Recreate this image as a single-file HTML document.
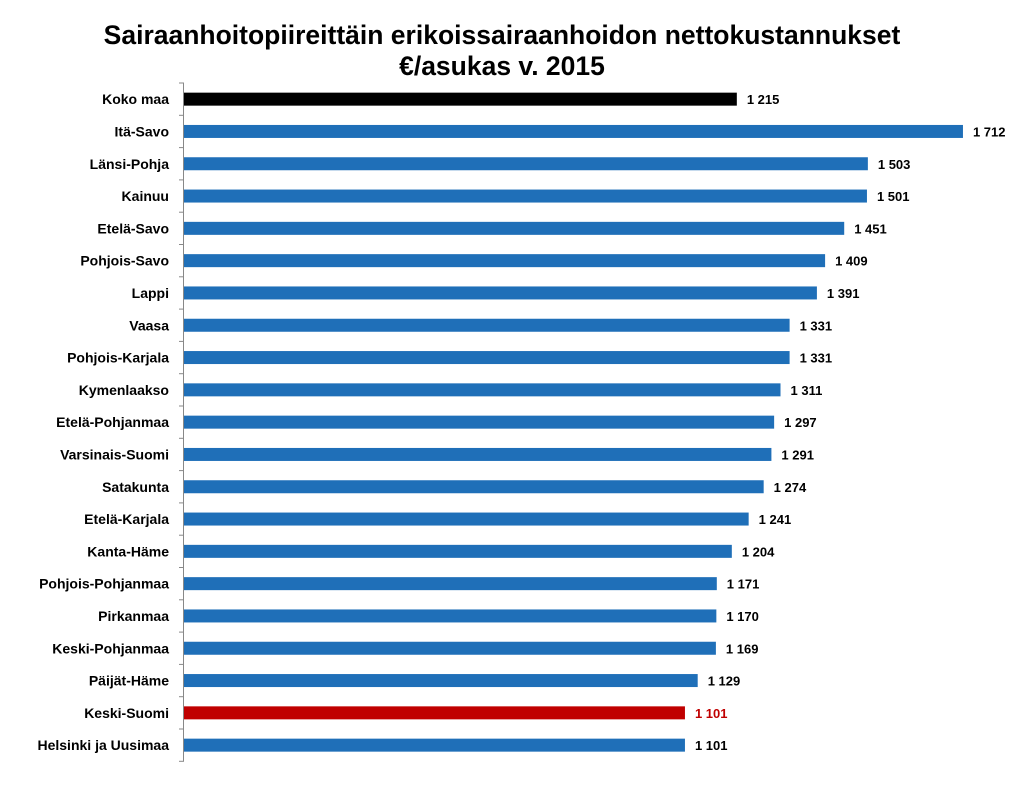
<!DOCTYPE html>
<html><head><meta charset="utf-8"><style>
body{margin:0;background:#fff;width:1024px;height:780px;overflow:hidden;font-family:"Liberation Sans",Arial,sans-serif}
</style></head><body>
<svg id="chart" width="1024" height="780" xmlns="http://www.w3.org/2000/svg">
<text x="502" y="44" text-anchor="middle" font-size="26.5" font-weight="bold" fill="#000">Sairaanhoitopiireittäin erikoissairaanhoidon nettokustannukset</text>
<text x="502" y="75" text-anchor="middle" font-size="26.5" font-weight="bold" fill="#000">€/asukas v. 2015</text>
<g id="plot"></g>
</svg>
<script>
const categories=["Koko maa","Itä-Savo","Länsi-Pohja","Kainuu","Etelä-Savo","Pohjois-Savo","Lappi","Vaasa","Pohjois-Karjala","Kymenlaakso","Etelä-Pohjanmaa","Varsinais-Suomi","Satakunta","Etelä-Karjala","Kanta-Häme","Pohjois-Pohjanmaa","Pirkanmaa","Keski-Pohjanmaa","Päijät-Häme","Keski-Suomi","Helsinki ja Uusimaa"];
const values=[1215,1712,1503,1501,1451,1409,1391,1331,1331,1311,1297,1291,1274,1241,1204,1171,1170,1169,1129,1101,1101];
const valueLabels=["1 215","1 712","1 503","1 501","1 451","1 409","1 391","1 331","1 331","1 311","1 297","1 291","1 274","1 241","1 204","1 171","1 170","1 169","1 129","1 101","1 101"];
const ns="http://www.w3.org/2000/svg";
const plotG=document.getElementById('plot');
const x0=184, scale=0.455, topY=83, step=32.3, barH=13;
const xs=v=>x0+v*scale;
const yc=i=>topY+step*(i+0.5);
function mk(t,a){const e=document.createElementNS(ns,t);for(const k in a)e.setAttribute(k,a[k]);plotG.appendChild(e);return e;}
const ax=mk('line',{x1:183.5,y1:topY,x2:183.5,y2:topY+step*categories.length,stroke:'#888','stroke-width':1});


for(let i=0;i<=categories.length;i++){
 const t=mk('line',{x1:179,x2:184,y1:topY+step*i,y2:topY+step*i,stroke:'#888','stroke-width':1});
 
 
}
categories.forEach((c,i)=>{
 const col=i===0?'#000':(c==='Keski-Suomi'?'#c00000':'#1f6fb8');
 const r=mk('rect',{x:x0,y:yc(i)-barH/2,width:xs(values[i])-x0,height:barH,fill:col});
 
 
 const l=mk('text',{x:169,y:yc(i)+5,'text-anchor':'end','font-size':14,'font-weight':'bold',fill:'#000'});
 l.textContent=c;
 
 
 const v=mk('text',{x:xs(values[i])+10,y:yc(i)+5,'font-size':13,'font-weight':'bold',fill:c==='Keski-Suomi'?'#c00000':'#000'});
 v.textContent=valueLabels[i];
 
 
});
</script>
</body></html>
